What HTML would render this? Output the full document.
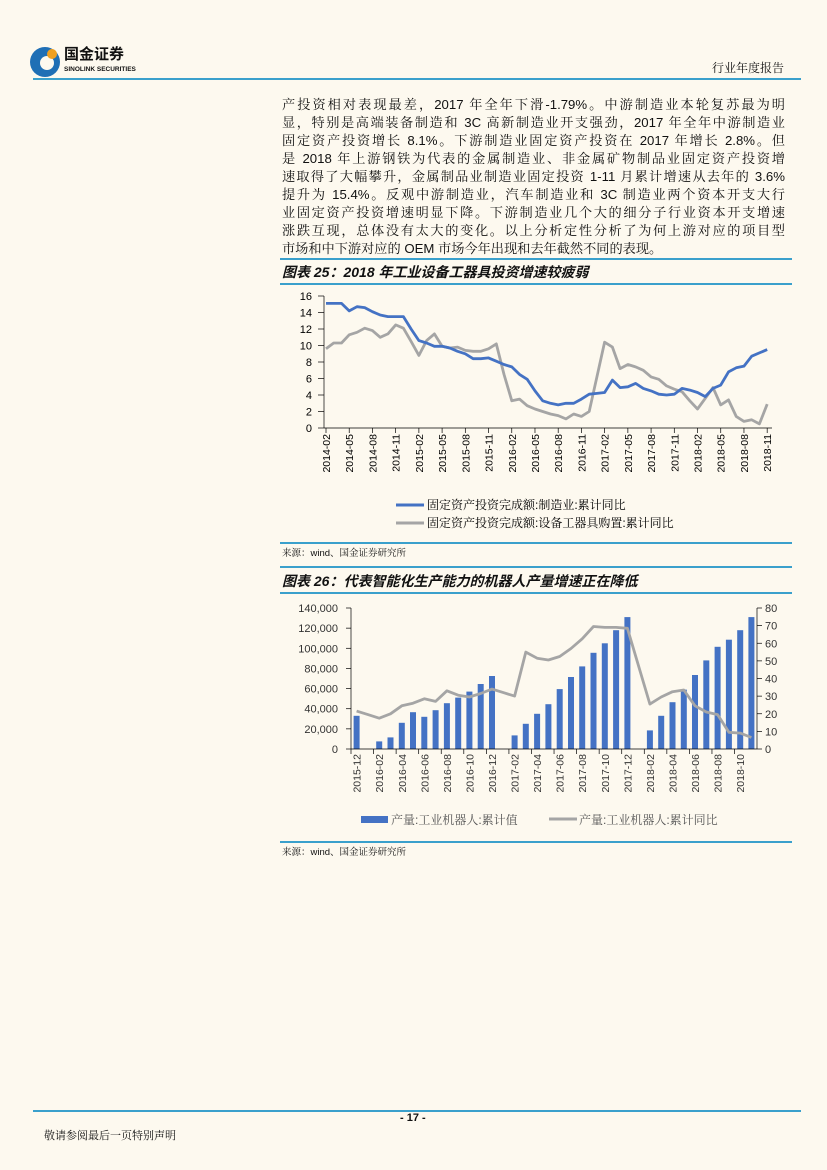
<!DOCTYPE html>
<html><head><meta charset="utf-8"><style>
body{margin:0;background:#fdf9ef;width:827px;height:1170px;position:relative;overflow:hidden;font-family:"Liberation Sans","Noto Serif CJK SC","Noto Sans CJK SC",serif;color:#111}
.a{position:absolute}
.p{position:absolute;left:282px;width:503px;font-size:13.2px;height:18px;line-height:18px;text-align:justify;text-align-last:justify;white-space:nowrap;font-family:"Liberation Sans","Noto Serif CJK SC",serif}
.rule{position:absolute;height:1.5px;background:#3aa0cc}
.ttl{position:absolute;left:282px;font-weight:bold;font-style:italic;font-size:14px;font-family:"Liberation Sans","Noto Sans CJK SC",sans-serif}
.src{position:absolute;left:282px;font-size:9.5px}
</style></head><body>
<svg class="a" style="left:28px;top:44px" width="36" height="36"><circle cx="17" cy="18" r="15" fill="#1f6fb5"/><circle cx="19" cy="19" r="7" fill="#fdf9ef"/><circle cx="24" cy="10" r="5" fill="#f0a020"/></svg>
<div class="a" style="left:64px;top:46px;font-size:15px;line-height:16px;font-weight:bold;font-family:'Noto Sans CJK SC',sans-serif">国金证券</div>
<div class="a" style="left:64px;top:66px;font-size:6.5px;line-height:7px;font-weight:bold">SINOLINK SECURITIES</div>
<div class="a" style="left:712px;top:59px;font-size:12px">行业年度报告</div>
<div class="rule" style="left:33px;top:78px;width:768px"></div>

<div class="p" style="top:96px">产投资相对表现最差，2017 年全年下滑-1.79%。中游制造业本轮复苏最为明</div>
<div class="p" style="top:114px">显，特别是高端装备制造和 3C 高新制造业开支强劲，2017 年全年中游制造业</div>
<div class="p" style="top:132px">固定资产投资增长 8.1%。下游制造业固定资产投资在 2017 年增长 2.8%。但</div>
<div class="p" style="top:150px">是 2018 年上游钢铁为代表的金属制造业、非金属矿物制品业固定资产投资增</div>
<div class="p" style="top:168px">速取得了大幅攀升，金属制品业制造业固定投资 1-11 月累计增速从去年的 3.6%</div>
<div class="p" style="top:186px">提升为 15.4%。反观中游制造业，汽车制造业和 3C 制造业两个资本开支大行</div>
<div class="p" style="top:204px">业固定资产投资增速明显下降。下游制造业几个大的细分子行业资本开支增速</div>
<div class="p" style="top:222px">涨跌互现，总体没有太大的变化。以上分析定性分析了为何上游对应的项目型</div>
<div class="p" style="top:240px;width:420px;text-align-last:left">市场和中下游对应的 OEM 市场今年出现和去年截然不同的表现。</div>

<div class="rule" style="left:280px;top:258px;width:512px"></div>
<div class="ttl" style="top:262px">图表 25：2018 年工业设备工器具投资增速较疲弱</div>
<div class="rule" style="left:280px;top:283px;width:512px"></div>
<svg id="c1" class="a" style="left:0;top:0" width="827" height="1170"></svg>
<div class="rule" style="left:280px;top:542px;width:512px"></div>
<div class="src" style="top:545px">来源：wind、国金证券研究所</div>

<div class="rule" style="left:280px;top:566px;width:512px"></div>
<div class="ttl" style="top:571px">图表 26：代表智能化生产能力的机器人产量增速正在降低</div>
<div class="rule" style="left:280px;top:592px;width:512px"></div>
<div class="rule" style="left:280px;top:841px;width:512px"></div>
<div class="src" style="top:844px">来源：wind、国金证券研究所</div>

<div class="rule" style="left:33px;top:1110px;width:768px"></div>
<div class="a" style="left:400px;top:1112px;font-size:11px;font-weight:bold">- 17 -</div>
<div class="a" style="left:44px;top:1127px;font-size:11px">敬请参阅最后一页特别声明</div>

<script>
var s='';var F='font-family="Liberation Sans,sans-serif"';
var b=[15.1,15.1,15.1,14.2,14.7,14.6,14.1,13.7,13.5,13.5,13.5,12.0,10.6,10.3,9.9,9.9,9.7,9.3,9.0,8.4,8.4,8.5,8.1,7.7,7.4,6.5,5.9,4.5,3.3,3.0,2.8,3.0,3.0,3.5,4.1,4.2,4.3,5.8,4.9,5.0,5.4,4.8,4.5,4.1,4.0,4.1,4.8,4.6,4.3,3.8,4.8,5.2,6.8,7.3,7.5,8.7,9.1,9.5];
var g=[9.6,10.3,10.3,11.3,11.6,12.1,11.8,11.0,11.4,12.5,12.1,10.5,8.8,10.6,11.4,9.9,9.7,9.8,9.4,9.3,9.3,9.6,10.2,6.5,3.3,3.5,2.7,2.3,2.0,1.7,1.5,1.1,1.7,1.4,2.0,6.2,10.4,9.8,7.2,7.7,7.4,7.0,6.2,5.9,5.1,4.7,4.4,3.3,2.3,3.6,4.9,2.8,3.4,1.4,0.8,1.0,0.5,2.9];
function X1(i){return 326+i*7.74}function Y1(v){return 428-v*8.25}
for(var v=0;v<=16;v+=2){s+='<text x="312" y="'+(Y1(v)+4)+'" font-size="11" text-anchor="end" '+F+'>'+v+'</text>';s+='<line x1="318" x2="324" y1="'+Y1(v)+'" y2="'+Y1(v)+'" stroke="#000" stroke-width="0.7"/>'}
s+='<line x1="324" x2="324" y1="296" y2="428" stroke="#000" stroke-width="0.7"/><line x1="324" x2="772" y1="428" y2="428" stroke="#000" stroke-width="0.7"/>';
var labs=['2014-02','2014-05','2014-08','2014-11','2015-02','2015-05','2015-08','2015-11','2016-02','2016-05','2016-08','2016-11','2017-02','2017-05','2017-08','2017-11','2018-02','2018-05','2018-08','2018-11'];
for(var k=0;k<labs.length;k++){var x=X1(k*3);s+='<line x1="'+x+'" x2="'+x+'" y1="428" y2="433" stroke="#000" stroke-width="0.7"/><text transform="translate('+(x+4)+',434) rotate(-90)" font-size="10.5" text-anchor="end" '+F+'>'+labs[k]+'</text>'}
function pl(a,X,Y,c,w){var p=[];for(var i=0;i<a.length;i++)if(a[i]!=null)p.push(X(i).toFixed(1)+','+Y(a[i]).toFixed(1));return '<polyline points="'+p.join(' ')+'" fill="none" stroke="'+c+'" stroke-width="'+w+'" stroke-linejoin="round"/>'}
s+=pl(g,X1,Y1,'#a5a5a5',2.8)+pl(b,X1,Y1,'#4472c4',2.8);
s+='<line x1="396" x2="424" y1="505" y2="505" stroke="#4472c4" stroke-width="3"/><text x="427" y="509" font-size="12">固定资产投资完成额:制造业:累计同比</text>';
s+='<line x1="396" x2="424" y1="523" y2="523" stroke="#a5a5a5" stroke-width="3"/><text x="427" y="527" font-size="12">固定资产投资完成额:设备工器具购置:累计同比</text>';
var bars=[33000,0,7500,11500,26000,36500,32000,38500,45500,51000,57000,64500,72500,0,13500,25000,35000,44500,59500,71500,82000,95500,105000,118000,131000,0,18500,33000,46500,59000,73500,88000,101500,108500,118000,131000];
var ln=[21.5,19.5,17.5,20,24.5,26,28.5,27,33,30.5,29.5,31.5,34,32,30,55,51.5,50.5,52.5,57,62.5,69.5,69,69,68.5,null,25.5,29.5,32.5,33.5,24.5,21,19.5,9.5,9,6.5];
function X2(i){return 351+(i+0.5)*11.28}function Y2(v){return 749-v/140000*141}function Y3(v){return 749-v/80*141}
for(var i=0;i<bars.length;i++)if(bars[i])s+='<rect x="'+(X2(i)-3).toFixed(1)+'" y="'+Y2(bars[i]).toFixed(1)+'" width="6" height="'+(749-Y2(bars[i])).toFixed(1)+'" fill="#4472c4"/>';
s+=pl(ln,X2,Y3,'#a5a5a5',2.8);
for(var v=0;v<=140000;v+=20000){var y=Y2(v);s+='<text x="338" y="'+(y+4)+'" font-size="11" fill="#333" text-anchor="end" '+F+'>'+(v?v.toLocaleString('en-US'):'0')+'</text><line x1="346" x2="351" y1="'+y+'" y2="'+y+'" stroke="#000" stroke-width="0.7"/>'}
for(var v=0;v<=80;v+=10){var y=Y3(v);s+='<text x="765" y="'+(y+4)+'" font-size="11" fill="#333" '+F+'>'+v+'</text><line x1="757" x2="762" y1="'+y+'" y2="'+y+'" stroke="#000" stroke-width="0.7"/>'}
s+='<line x1="351" x2="351" y1="608" y2="749" stroke="#000" stroke-width="0.7"/><line x1="757" x2="757" y1="608" y2="749" stroke="#000" stroke-width="0.7"/><line x1="351" x2="757" y1="749" y2="749" stroke="#000" stroke-width="0.7"/>';
var l2=['2015-12','2016-02','2016-04','2016-06','2016-08','2016-10','2016-12','2017-02','2017-04','2017-06','2017-08','2017-10','2017-12','2018-02','2018-04','2018-06','2018-08','2018-10'];
for(var k=0;k<l2.length;k++){var x=351+k*2*11.28;s+='<line x1="'+x+'" x2="'+x+'" y1="749" y2="754" stroke="#000" stroke-width="0.7"/><text transform="translate('+(X2(k*2)+4)+',754) rotate(-90)" font-size="10.5" fill="#333" text-anchor="end" '+F+'>'+l2[k]+'</text>'}
s+='<rect x="361" y="816" width="27" height="7" fill="#4472c4"/><text x="391" y="824" font-size="12" fill="#555">产量:工业机器人:累计值</text>';
s+='<line x1="549" x2="577" y1="819" y2="819" stroke="#a5a5a5" stroke-width="3"/><text x="579" y="824" font-size="12" fill="#555">产量:工业机器人:累计同比</text>';
document.getElementById('c1').innerHTML=s;
</script>
</body></html>
